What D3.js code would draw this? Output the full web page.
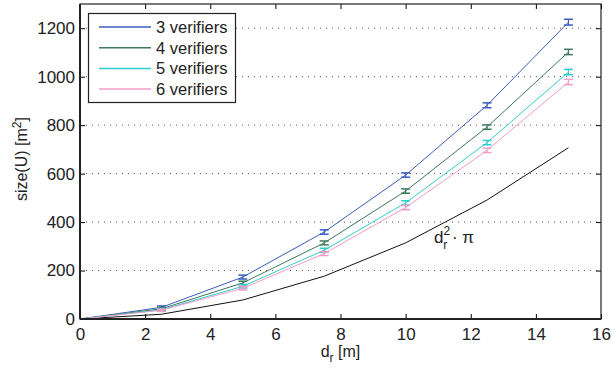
<!DOCTYPE html>
<html>
<head>
<meta charset="utf-8">
<script src="https://cdn.jsdelivr.net/npm/d3@7"></script>
<style>
  body { margin: 0; background: #fff; }
  text { font-family: "Liberation Sans", Arial, sans-serif; fill: #222; }
</style>
</head>
<body>
<div id="chart"></div>
<script>
var dr = [0, 2.5, 5, 7.5, 10, 12.5, 15];
var seriesNames = ["3 verifiers", "4 verifiers", "5 verifiers", "6 verifiers"];
var v3 = [0, 48, 173, 359, 594, 882, 1225];
var v4 = [0, 42, 149, 314, 528, 792, 1102];
var v5 = [0, 38, 135, 284, 479, 728, 1019];
var v6 = [0, 36, 127, 270, 460, 696, 978];
var err3 = [0, 6, 8, 9, 9, 10, 12];
var err4 = [0, 5, 7, 8, 9, 9, 11];
var err5 = [0, 5, 7, 8, 9, 9, 11];
var err6 = [0, 5, 7, 8, 9, 9, 11];
var circle = [0, 19.6, 78.5, 176.7, 314.2, 490.9, 706.9];
var xTicks = [0, 2, 4, 6, 8, 10, 12, 14, 16];
var yTicks = [0, 200, 400, 600, 800, 1000, 1200];
var colors = ["#3c5cbf", "#3d7a5c", "#33cccc", "#f29cc8"];

var width = 613, height = 371;
var margin = { top: 4, right: 12, bottom: 52, left: 80 };

var svg = d3.select("#chart").append("svg")
  .attr("width", width).attr("height", height);

var x = d3.scaleLinear().domain([0, 16])
  .range([margin.left, width - margin.right]);
var y = d3.scaleLinear().domain([0, 1300])
  .range([height - margin.bottom, margin.top]);

// dotted horizontal grid
svg.append("g")
  .selectAll("line")
  .data(yTicks.filter(d => d > 0))
  .join("line")
  .attr("x1", x(0)).attr("x2", x(16))
  .attr("y1", d => y(d)).attr("y2", d => y(d))
  .attr("stroke", "#555")
  .attr("stroke-width", 1)
  .attr("stroke-dasharray", "1,5");

// black reference curve
var line = d3.line().x((d, i) => x(dr[i])).y(d => y(d));
svg.append("path").datum(circle)
  .attr("d", line).attr("fill", "none")
  .attr("stroke", "#111").attr("stroke-width", 1);

var allSeries = [v3, v4, v5, v6];
var allErr = [err3, err4, err5, err6];

allSeries.forEach(function (vals, k) {
  var g = svg.append("g");
  g.append("path").datum(vals)
    .attr("d", line).attr("fill", "none")
    .attr("stroke", colors[k]).attr("stroke-width", 1);
  var pts = vals.map((v, i) => ({ x: dr[i], v: v, e: allErr[k][i] })).filter(d => d.x > 0);
  g.selectAll(".eb").data(pts).join("line")
    .attr("x1", d => x(d.x)).attr("x2", d => x(d.x))
    .attr("y1", d => y(d.v - d.e)).attr("y2", d => y(d.v + d.e))
    .attr("stroke", colors[k]).attr("stroke-width", 1.2);
  [1, -1].forEach(function (s) {
    g.selectAll(".cap" + s).data(pts).join("line")
      .attr("x1", d => x(d.x) - 4.5).attr("x2", d => x(d.x) + 4.5)
      .attr("y1", d => y(d.v + s * d.e)).attr("y2", d => y(d.v + s * d.e))
      .attr("stroke", colors[k]).attr("stroke-width", 1.5);
  });
});

// axes with inward ticks
var fmt = d3.format("d");
function xAxis(g) {
  g.attr("transform", `translate(0, ${y(0)})`)
    .call(d3.axisBottom(x).tickValues(xTicks).tickFormat(fmt).tickSizeInner(-5).tickSizeOuter(0).tickPadding(9))
    .call(g => g.select(".domain").remove())
    .selectAll("text").style("font-size", "17px");
}
function yAxis(g) {
  g.attr("transform", `translate(${x(0)}, 0)`)
    .call(d3.axisLeft(y).tickValues(yTicks).tickFormat(fmt).tickSizeInner(-5).tickSizeOuter(0).tickPadding(5))
    .call(g => g.select(".domain").remove())
    .selectAll("text").style("font-size", "17px");
}
svg.append("g").call(xAxis);
svg.append("g").call(yAxis);

// top and right ticks
svg.append("g").attr("transform", `translate(0, ${y(1300)})`)
  .call(d3.axisTop(x).tickValues(xTicks).tickSizeInner(-5).tickSizeOuter(0).tickFormat(""))
  .call(g => g.select(".domain").remove());
svg.append("g").attr("transform", `translate(${x(16)}, 0)`)
  .call(d3.axisRight(y).tickValues(yTicks).tickSizeInner(-5).tickSizeOuter(0).tickFormat(""))
  .call(g => g.select(".domain").remove());

// frame
svg.append("rect")
  .attr("x", x(0)).attr("y", y(1300))
  .attr("width", x(16) - x(0)).attr("height", y(0) - y(1300))
  .attr("fill", "none").attr("stroke", "#222").attr("stroke-width", 1.2);
svg.append("line").attr("x1", x(0)).attr("x2", x(0)).attr("y1", y(1300)).attr("y2", y(0))
  .attr("stroke", "#222").attr("stroke-width", 2);
svg.append("line").attr("x1", x(0)).attr("x2", x(16)).attr("y1", y(0)).attr("y2", y(0))
  .attr("stroke", "#222").attr("stroke-width", 2);

// axis labels
var xl = svg.append("text").attr("x", x(8)).attr("y", 357)
  .attr("text-anchor", "middle").style("font-size", "16px");
xl.append("tspan").text("d");
xl.append("tspan").attr("dy", 5).style("font-size", "12px").text("r");
xl.append("tspan").attr("dy", -5).text(" [m]");

var yl = svg.append("text")
  .attr("transform", `translate(27, ${y(660)}) rotate(-90)`)
  .attr("text-anchor", "middle").style("font-size", "16px");
yl.append("tspan").text("size(U) [m");
yl.append("tspan").attr("dy", -6).style("font-size", "12px").text("2");
yl.append("tspan").attr("dy", 6).text("]");

// annotation
var an = svg.append("text").attr("x", 434).attr("y", 243).style("font-size", "17px");
an.append("tspan").text("d");
an.append("tspan").attr("dy", -8).style("font-size", "12px").text("2");
an.append("tspan").attr("dx", -7).attr("dy", 14).style("font-size", "12px").text("r");
an.append("tspan").attr("dy", -6).text(" · π");

// legend
var lg = svg.append("g");
lg.append("rect").attr("x", 88.5).attr("y", 13.5).attr("width", 147).attr("height", 89)
  .attr("fill", "#fff").attr("stroke", "#222").attr("stroke-width", 1.2);
seriesNames.forEach(function (name, k) {
  var yy = 27 + k * 20.7;
  lg.append("line").attr("x1", 99).attr("x2", 151).attr("y1", yy).attr("y2", yy)
    .attr("stroke", colors[k]).attr("stroke-width", 1.5);
  lg.append("text").attr("x", 156).attr("y", yy + 6).style("font-size", "16.5px").text(name);
});
</script>
</body>
</html>
